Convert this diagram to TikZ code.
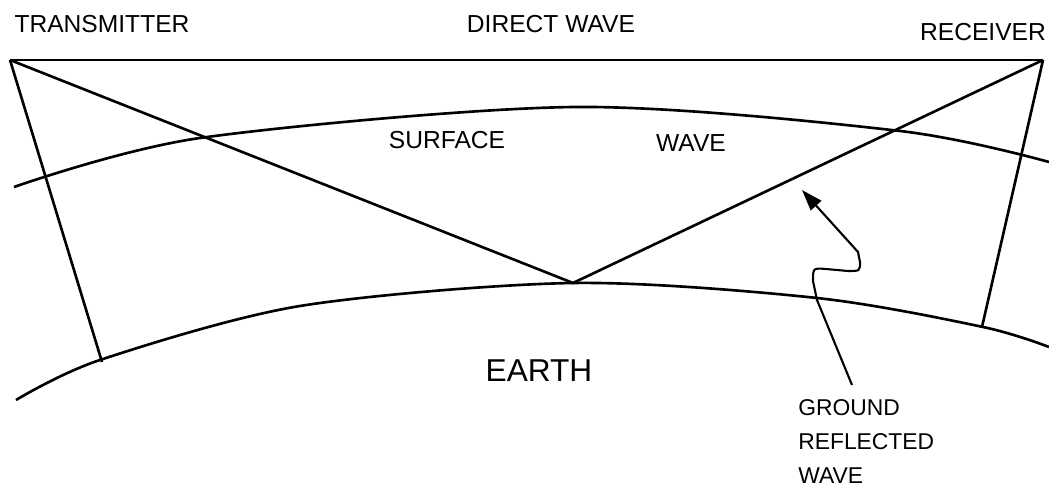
\documentclass[tikz,border=0pt]{standalone}
\usepackage{fontspec}
\setmainfont{Liberation Sans}
\usetikzlibrary{arrows.meta}

\begin{document}
\begin{tikzpicture}[x=0.02cm,y=-0.02cm,>=Stealth,line width=1.5pt,
  font=\fontsize{14}{16}\selectfont]
\tikzstyle{lbl}=[inner sep=0pt,anchor=center]
\useasboundingbox (0,0) rectangle (1049,492);
% end points of the rays
\coordinate (tx) at (10,60);
\coordinate (rx) at (1043,60);
\coordinate (refl) at (573,283);
\coordinate (txg) at (102,362);
\coordinate (rxg) at (982,327);
% surface wave and earth
\draw plot[smooth] coordinates {(14,187) (200,138) (575,107) (900,131) (1049,162)};
\draw plot[smooth] coordinates {(16,400) (100,360) (300,306) (573,283) (817,298) (983,327) (1049,347)};
% rays
\draw (tx) -- (rx);
\draw (tx) -- (txg);
\draw (rx) -- (rxg);
\draw (tx) -- (refl) -- (rx);
% labels
\node[lbl] (txl) at (102,24) {TRANSMITTER};
\node[lbl] (dwl) at (551,24) {DIRECT WAVE};
\node[lbl] (rxl) at (983,32) {RECEIVER};
\node[lbl] (swl) at (447,140) {SURFACE};
\node[lbl] (swr) at (691,143) {WAVE};
\node[lbl,font=\fontsize{18}{20}\selectfont] (earth) at (539,371) {EARTH};
\node[lbl,anchor=north west,align=left,font=\fontsize{13}{19.5}\selectfont] (grw) at (797,398) {GROUND\\REFLECTED\\WAVE};
% pointer to the reflected ray
\coordinate (gbot) at (852,385);
\coordinate (gtip) at (802,190);
\draw[-{Triangle[length=12pt,width=8pt]},line width=1.2pt] (gbot) -- (817,300) -- (813,281)
  .. controls (813,268) .. (826,269) -- (848,271) .. controls (860,271) .. (860,262)
  -- (858,252) -- (gtip);
\end{tikzpicture}
\end{document}
